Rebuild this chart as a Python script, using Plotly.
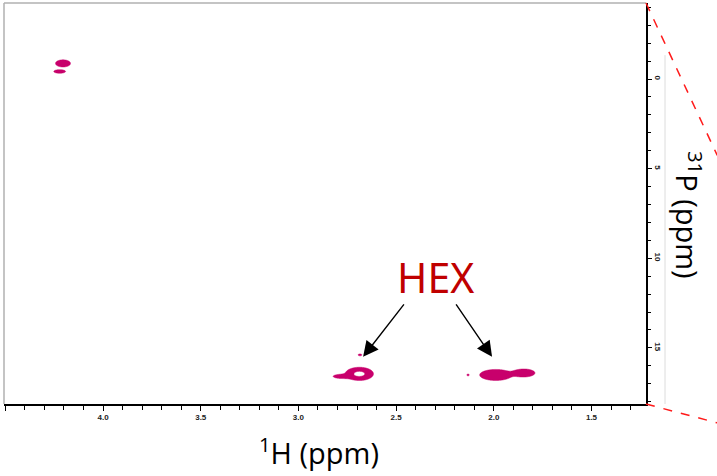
import numpy as np
import plotly.graph_objects as go

# Cross peaks of the 1H-31P correlation spectrum (Gaussian line shapes)
peak_group = [0, 0, 1, 1, 1, 2, 2, 2]
peak_h = [4.205, 4.222, 2.688, 2.780, 2.685, 2.132, 1.990, 1.846]      # 1H shift, ppm
peak_p = [-0.87, -0.42, 16.45, 16.59, 15.39, 16.51, 16.51, 16.40]     # 31P shift, ppm
peak_sh = [0.023, 0.018, 0.037, 0.030, 0.008, 0.005, 0.048, 0.033]    # 1H width (sigma)
peak_sp = [0.12, 0.06, 0.19, 0.08, 0.045, 0.04, 0.18, 0.13]           # 31P width (sigma)
peak_amp = [0.6, 0.6, 1.0, 0.4, 0.3, 0.3, 0.65, 0.65]

contour_low, contour_high = 0.15, 0.76

x_range = [4.507, 1.221]
y_range = [18.13, -4.24]

PEAK_COLOR = "#C8006C"

fig = go.Figure()

for g in sorted(set(peak_group)):
    idx = [i for i, k in enumerate(peak_group) if k == g]
    h0 = min(peak_h[i] - 4 * peak_sh[i] for i in idx)
    h1 = max(peak_h[i] + 4 * peak_sh[i] for i in idx)
    p0 = min(peak_p[i] - 4 * peak_sp[i] for i in idx)
    p1 = max(peak_p[i] + 4 * peak_sp[i] for i in idx)
    hx = np.arange(h0, h1, 0.0012)
    py = np.arange(p0, p1, 0.008)
    H, P = np.meshgrid(hx, py)
    Z = np.zeros_like(H)
    for i in idx:
        Z += peak_amp[i] * np.exp(-((H - peak_h[i]) ** 2) / (2 * peak_sh[i] ** 2)
                                  - ((P - peak_p[i]) ** 2) / (2 * peak_sp[i] ** 2))
    # the shaded area of a constraint contour is the excluded region,
    # so "][" shades the band between the two levels
    fig.add_trace(go.Contour(
        x=hx, y=py, z=Z,
        contours=dict(type="constraint", operation="][",
                      value=[contour_low, contour_high]),
        fillcolor=PEAK_COLOR,
        line=dict(width=0.5, color=PEAK_COLOR),
        showscale=False, hoverinfo="skip",
    ))

tick_font = dict(family="Liberation Sans, Arial", size=8, color="#222", weight="bold")

fig.update_layout(
    width=717, height=476,
    margin=dict(l=4, r=71, t=3, b=72),
    paper_bgcolor="white", plot_bgcolor="white",
    showlegend=False,
    xaxis=dict(
        range=x_range, showgrid=False, zeroline=False,
        showline=True, linecolor="black", linewidth=1.5,
        ticks="outside", ticklen=5, tickwidth=1, tickcolor="black",
        tick0=0, dtick=0.5, tickformat=".1f", tickfont=tick_font,
        minor=dict(dtick=0.1, ticks="outside", ticklen=4, tickcolor="black"),
    ),
    yaxis=dict(
        range=y_range, side="right", showgrid=False, zeroline=False,
        showline=True, linecolor="black", linewidth=1.5,
        ticks="outside", ticklen=4, tickwidth=1, tickcolor="black",
        tick0=0, dtick=5, tickangle=90, tickfont=tick_font,
        minor=dict(dtick=1, ticks="outside", ticklen=3, tickcolor="black"),
    ),
)

# Light frame on the top and left edges of the spectrum window
fig.add_shape(type="line", xref="paper", yref="paper", x0=0, x1=1, y0=1.0, y1=1.0,
              line=dict(color="#b0b0b0", width=1.5))
fig.add_shape(type="line", xref="paper", yref="paper", x0=0, x1=0, y0=0, y1=1.0,
              line=dict(color="#b0b0b0", width=1.5))
fig.add_shape(type="line", xref="paper", yref="paper", x0=1.0296, x1=1.0296, y0=0.0, y1=0.87,
              line=dict(color="#dcdcdc", width=1))

# Zoom guide lines to the inset
fig.add_shape(type="line", xref="paper", yref="paper", x0=1.0, y0=1.0, x1=1.111, y1=0.62,
              line=dict(color="#ff1a1a", width=1.5, dash="dash"))
fig.add_shape(type="line", xref="paper", yref="paper", x0=1.0, y0=0.0, x1=1.111, y1=-0.047,
              line=dict(color="#ff1a1a", width=1.5, dash="dash"))

title_font = dict(family="Open Sans, sans-serif", size=29, color="black")
fig.add_annotation(text="<sup>1</sup>H (ppm)", xref="paper", yref="paper",
                   x=(319 - 4) / 642, y=-(451 - 404) / 401, showarrow=False,
                   font=title_font, xanchor="center", yanchor="middle")
fig.add_annotation(text="<sup>31</sup>P (ppm)", xref="paper", yref="paper",
                   x=(689 - 4) / 642, y=(404 - 215) / 401, showarrow=False,
                   textangle=90, font=title_font, xanchor="center", yanchor="middle")

# HEX label with arrows to its two cross peaks
fig.add_annotation(text="HEX", xref="paper", yref="paper",
                   x=(435 - 4) / 642, y=(404 - 277) / 401, showarrow=False,
                   font=dict(family="Noto Sans, Open Sans, sans-serif", size=41, color="#C00000"),
                   xanchor="center", yanchor="middle")
for tip_h, ax in [(2.669, 42), (2.009, -37)]:
    fig.add_annotation(x=tip_h, y=15.5, xref="x", yref="y", text="",
                       showarrow=True, ax=ax, ay=-54, axref="pixel", ayref="pixel",
                       arrowhead=2, arrowsize=2.2, arrowwidth=1.4, arrowcolor="black")

fig.write_html("out.html")
